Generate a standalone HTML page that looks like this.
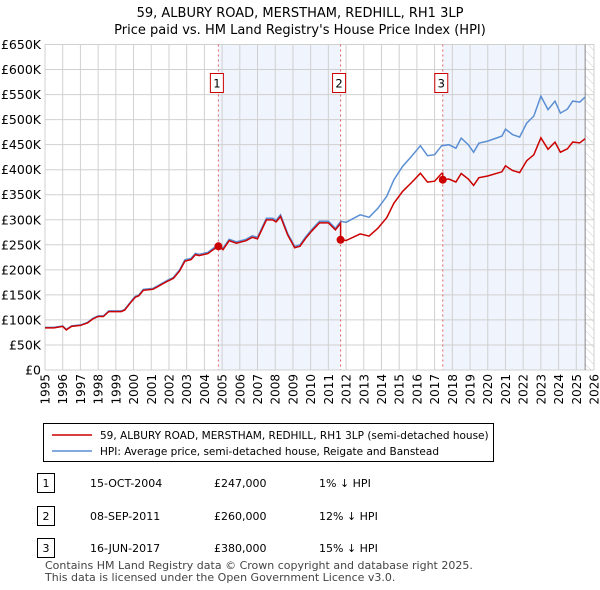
<!DOCTYPE html>
<html><head><meta charset="utf-8">
<style>
body{margin:0;background:#fff;font-family:"Liberation Sans","DejaVu Sans",sans-serif;}
#wrap{position:relative;width:600px;height:590px;overflow:hidden;}
svg text{font-family:"DejaVu Sans","Liberation Sans",sans-serif;}
</style></head>
<body>
<div id="wrap">
<svg id="chart" width="600" height="590"></svg>
</div>
<script>
const hpiYears=[1995,1995.5,1996,1996.2,1996.5,1997,1997.4,1997.7,1998,1998.3,1998.6,1999.3,1999.5,1999.9,2000.1,2000.3,2000.55,2001.1,2001.5,2001.95,2002.25,2002.6,2002.9,2003.25,2003.5,2003.7,2004.2,2004.5,2004.8,2005.05,2005.4,2005.8,2006.35,2006.7,2007.0,2007.5,2007.85,2008.05,2008.3,2008.7,2009.1,2009.4,2009.7,2010.05,2010.5,2011,2011.4,2011.7,2012,2012.8,2013.3,2013.8,2014.3,2014.7,2015.2,2015.7,2016.2,2016.6,2017,2017.4,2017.8,2018.2,2018.5,2018.9,2019.2,2019.5,2020,2020.8,2021,2021.4,2021.8,2022.2,2022.6,2023,2023.4,2023.8,2024.1,2024.5,2024.8,2025.2,2025.5];
const hpiValues=[85,85,88,81,88,90,95,103,108,108,118,118,121,139,147,150,161,163,171,180,185,200,220,223,233,231,235,243,250,243,261,256,261,268,265,303,303,299,310,273,247,250,265,280,297,297,283,297,295,310,305,323,347,380,407,427,448,428,430,448,450,443,463,450,435,453,457,467,481,470,465,493,507,547,520,537,513,521,537,535,545];
const saleYears=[2004.79,2011.69,2017.46];
const salePrices=[247,260,380];
const saleLabels=["1","2","3"];
const yTicks=[0,50,100,150,200,250,300,350,400,450,500,550,600,650];
const xTicks=[1995,1996,1997,1998,1999,2000,2001,2002,2003,2004,2005,2006,2007,2008,2009,2010,2011,2012,2013,2014,2015,2016,2017,2018,2019,2020,2021,2022,2023,2024,2025,2026];

const NS="http://www.w3.org/2000/svg";
const svg=document.getElementById('chart');
const X0=45,X1=594,Y0=370,Y1=44.5;
const xs=y=>X0+(y-1995)/(2026-1995)*(X1-X0);
const ys=v=>Y0-v/650*(Y0-Y1);
function mk(t,a,p){const e=document.createElementNS(NS,t);for(const k in a)e.setAttribute(k,a[k]);(p||svg).appendChild(e);return e;}
function hpiAt(y){for(let i=1;i<hpiYears.length;i++){if(y<=hpiYears[i]){const f=(y-hpiYears[i-1])/(hpiYears[i]-hpiYears[i-1]);return hpiValues[i-1]+f*(hpiValues[i]-hpiValues[i-1]);}}return hpiValues[hpiValues.length-1];}

let t=mk('text',{x:300,y:17,'text-anchor':'middle','font-size':13,fill:'#000'});t.textContent='59, ALBURY ROAD, MERSTHAM, REDHILL, RH1 3LP';

t=mk('text',{x:300,y:34,'text-anchor':'middle','font-size':13,fill:'#000'});t.textContent="Price paid vs. HM Land Registry's House Price Index (HPI)";


let r=mk('rect',{x:xs(saleYears[0]),y:Y1,width:xs(saleYears[1])-xs(saleYears[0]),height:Y0-Y1,fill:'#f0f4fc'});

r=mk('rect',{x:xs(saleYears[2]),y:Y1,width:xs(2025.5)-xs(saleYears[2]),height:Y0-Y1,fill:'#f0f4fc'});

const defs=mk('defs',{});
const pat=mk('pattern',{id:'hatch',width:6,height:6,patternUnits:'userSpaceOnUse',patternTransform:'rotate(-45)'},defs);
mk('line',{x1:0,y1:0,x2:0,y2:6,stroke:'#ccc','stroke-width':1},pat);
r=mk('rect',{x:xs(2025.5),y:Y1,width:X1-xs(2025.5),height:Y0-Y1,fill:'url(#hatch)'});


yTicks.forEach(v=>{const l=mk('line',{x1:X0,x2:X1,y1:ys(v),y2:ys(v),stroke:'#d0d0d0','stroke-width':1});

const tx=mk('text',{x:X0-4,y:ys(v)+4.5,'text-anchor':'end','font-size':12.5,fill:'#000'});tx.textContent=v===0?'£0':'£'+v+'K';
});
xTicks.forEach(y=>{const l=mk('line',{x1:xs(y),x2:xs(y),y1:Y1,y2:Y0,stroke:'#d0d0d0','stroke-width':1});

const tx=mk('text',{x:0,y:0,'text-anchor':'end','font-size':12,fill:'#000',transform:'translate('+(xs(y)+4.5)+',374) rotate(-90)'});tx.textContent=y;
});
let l=mk('line',{x1:xs(2025.5),x2:xs(2025.5),y1:Y1,y2:Y0,stroke:'#888','stroke-width':1});


saleYears.forEach((y,i)=>{const v=mk('line',{x1:xs(y),x2:xs(y),y1:Y1,y2:Y0,stroke:'#e06060','stroke-width':1,'stroke-dasharray':'2,3'});

const b=mk('rect',{x:xs(y)-8,y:73.5,width:13,height:19,fill:'#fff',stroke:'#cc0000','stroke-width':1});

const tx=mk('text',{x:xs(y)-1.5,y:87.5,'text-anchor':'middle','font-size':11.5,fill:'#000'});tx.textContent=saleLabels[i];
});

let d=hpiYears.map((y,i)=>(i?'L':'M')+xs(y).toFixed(1)+','+ys(hpiValues[i]).toFixed(1)).join('');
let p=mk('path',{d:d,fill:'none',stroke:'#5b8fd4','stroke-width':1.5});


const ratios=saleYears.map((y,i)=>salePrices[i]/hpiAt(y));
let pts=[];
hpiYears.forEach((y,i)=>{let k=0;for(let j=0;j<saleYears.length;j++)if(y>=saleYears[j])k=j;
pts.push([y,hpiValues[i]*ratios[k]]);});
saleYears.forEach((y,j)=>{if(j>0)pts.push([y-0.001,hpiAt(y)*ratios[j-1]]);pts.push([y,salePrices[j]]);});
pts.sort((a,b)=>a[0]-b[0]);
d=pts.map((q,i)=>(i?'L':'M')+xs(q[0]).toFixed(1)+','+ys(q[1]).toFixed(1)).join('');
p=mk('path',{d:d,fill:'none',stroke:'#cc0000','stroke-width':1.5});

saleYears.forEach((y,i)=>{const c=mk('circle',{cx:xs(y),cy:ys(salePrices[i]),r:4,fill:'#cc0000'});
});

r=mk('rect',{x:43.5,y:423.5,width:450,height:38,fill:'#fff',stroke:'#000','stroke-width':1});

l=mk('line',{x1:52,x2:92,y1:435,y2:435,stroke:'#cc0000','stroke-width':1.5});
t=mk('text',{x:100,y:439,'font-size':10.5,fill:'#000'});t.textContent='59, ALBURY ROAD, MERSTHAM, REDHILL, RH1 3LP (semi-detached house)';

l=mk('line',{x1:52,x2:92,y1:451,y2:451,stroke:'#5b8fd4','stroke-width':1.5});
t=mk('text',{x:100,y:455,'font-size':10.5,fill:'#000'});t.textContent='HPI: Average price, semi-detached house, Reigate and Banstead';


const rowDates=['15-OCT-2004','08-SEP-2011','16-JUN-2017'];
const rowPrices=['£247,000','£260,000','£380,000'];
const rowDiff=['1% ↓ HPI','12% ↓ HPI','15% ↓ HPI'];
const rowY=[483,516,548];
rowY.forEach((y,i)=>{const b=mk('rect',{x:37.5,y:y-9.5,width:17,height:19,fill:'#fff',stroke:'#000','stroke-width':1});

const cells=[[46,saleLabels[i],'middle'],[90,rowDates[i],'start'],[214,rowPrices[i],'start'],[319,rowDiff[i],'start']];
cells.forEach(c=>{const tx=mk('text',{x:c[0],y:y+4,'text-anchor':c[2],'font-size':11,fill:'#000'});tx.textContent=c[1];
});});

t=mk('text',{x:45,y:569,'font-size':11,fill:'#444'});t.textContent='Contains HM Land Registry data © Crown copyright and database right 2025.';

t=mk('text',{x:45,y:581,'font-size':11,fill:'#444'});t.textContent='This data is licensed under the Open Government Licence v3.0.';

</script>
</body></html>
